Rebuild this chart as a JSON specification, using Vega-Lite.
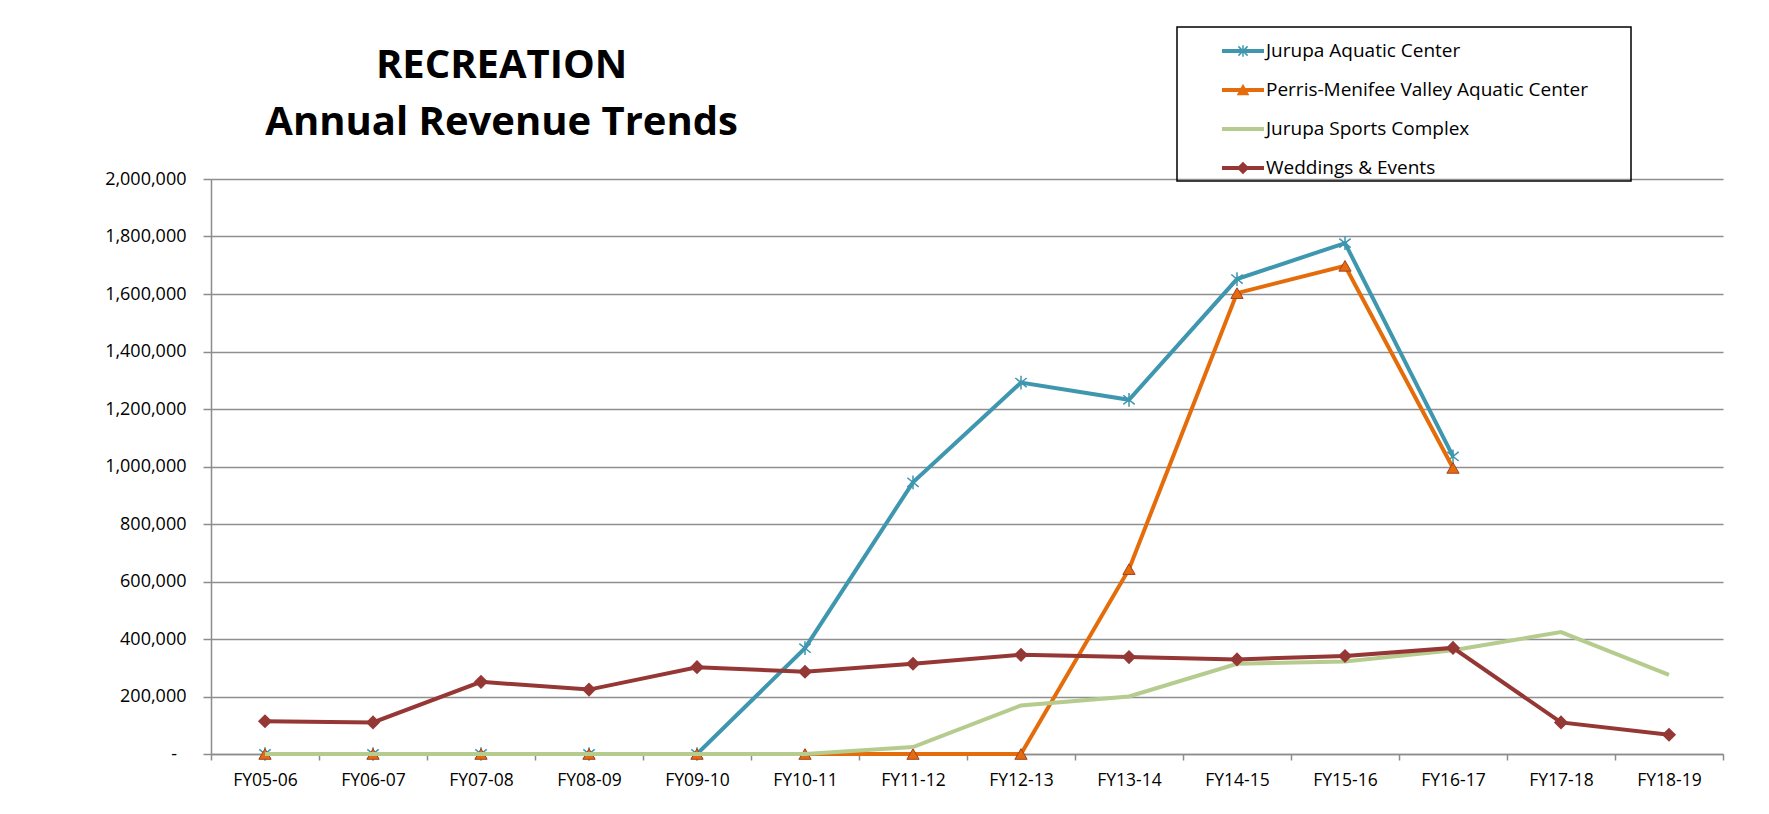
{
  "$schema": "https://vega.github.io/schema/vega-lite/v6.json",
  "autosize": {"type": "none"},
  "padding": {"left": 211, "top": 179, "right": 46, "bottom": 59},
  "width": 1512,
  "height": 575,
  "background": "white",
  "config": {
    "view": {"stroke": null},
    "font": "Open Sans"
  },
  "title": {
    "text": ["RECREATION", "Annual Revenue Trends"],
    "anchor": "start",
    "align": "center",
    "dx": 397,
    "dy": 182,
    "font": "Open Sans",
    "fontSize": 40,
    "fontWeight": "bold",
    "color": "#000000",
    "lineHeight": 57,
    "baseline": "bottom",
    "offset": 25
  },
  "data": {
    "values": [
      {"fy": "FY05-06", "s": "Jurupa Aquatic Center", "v": 0},
      {"fy": "FY06-07", "s": "Jurupa Aquatic Center", "v": 0},
      {"fy": "FY07-08", "s": "Jurupa Aquatic Center", "v": 0},
      {"fy": "FY08-09", "s": "Jurupa Aquatic Center", "v": 0},
      {"fy": "FY09-10", "s": "Jurupa Aquatic Center", "v": 0},
      {"fy": "FY10-11", "s": "Jurupa Aquatic Center", "v": 368000},
      {"fy": "FY11-12", "s": "Jurupa Aquatic Center", "v": 945000},
      {"fy": "FY12-13", "s": "Jurupa Aquatic Center", "v": 1292000},
      {"fy": "FY13-14", "s": "Jurupa Aquatic Center", "v": 1232000},
      {"fy": "FY14-15", "s": "Jurupa Aquatic Center", "v": 1652000},
      {"fy": "FY15-16", "s": "Jurupa Aquatic Center", "v": 1777000},
      {"fy": "FY16-17", "s": "Jurupa Aquatic Center", "v": 1035000},
      {"fy": "FY05-06", "s": "Perris-Menifee Valley Aquatic Center", "v": 0},
      {"fy": "FY06-07", "s": "Perris-Menifee Valley Aquatic Center", "v": 0},
      {"fy": "FY07-08", "s": "Perris-Menifee Valley Aquatic Center", "v": 0},
      {"fy": "FY08-09", "s": "Perris-Menifee Valley Aquatic Center", "v": 0},
      {"fy": "FY09-10", "s": "Perris-Menifee Valley Aquatic Center", "v": 0},
      {"fy": "FY10-11", "s": "Perris-Menifee Valley Aquatic Center", "v": 0},
      {"fy": "FY11-12", "s": "Perris-Menifee Valley Aquatic Center", "v": 0},
      {"fy": "FY12-13", "s": "Perris-Menifee Valley Aquatic Center", "v": 0},
      {"fy": "FY13-14", "s": "Perris-Menifee Valley Aquatic Center", "v": 643000},
      {"fy": "FY14-15", "s": "Perris-Menifee Valley Aquatic Center", "v": 1603000},
      {"fy": "FY15-16", "s": "Perris-Menifee Valley Aquatic Center", "v": 1698000},
      {"fy": "FY16-17", "s": "Perris-Menifee Valley Aquatic Center", "v": 995000},
      {"fy": "FY05-06", "s": "Jurupa Sports Complex", "v": 0},
      {"fy": "FY06-07", "s": "Jurupa Sports Complex", "v": 0},
      {"fy": "FY07-08", "s": "Jurupa Sports Complex", "v": 0},
      {"fy": "FY08-09", "s": "Jurupa Sports Complex", "v": 0},
      {"fy": "FY09-10", "s": "Jurupa Sports Complex", "v": 0},
      {"fy": "FY10-11", "s": "Jurupa Sports Complex", "v": 0},
      {"fy": "FY11-12", "s": "Jurupa Sports Complex", "v": 24000},
      {"fy": "FY12-13", "s": "Jurupa Sports Complex", "v": 169000},
      {"fy": "FY13-14", "s": "Jurupa Sports Complex", "v": 200000},
      {"fy": "FY14-15", "s": "Jurupa Sports Complex", "v": 314000},
      {"fy": "FY15-16", "s": "Jurupa Sports Complex", "v": 322000},
      {"fy": "FY16-17", "s": "Jurupa Sports Complex", "v": 361000},
      {"fy": "FY17-18", "s": "Jurupa Sports Complex", "v": 424000},
      {"fy": "FY18-19", "s": "Jurupa Sports Complex", "v": 275000},
      {"fy": "FY05-06", "s": "Weddings & Events", "v": 114000},
      {"fy": "FY06-07", "s": "Weddings & Events", "v": 110000},
      {"fy": "FY07-08", "s": "Weddings & Events", "v": 251000},
      {"fy": "FY08-09", "s": "Weddings & Events", "v": 224000},
      {"fy": "FY09-10", "s": "Weddings & Events", "v": 302000},
      {"fy": "FY10-11", "s": "Weddings & Events", "v": 286000},
      {"fy": "FY11-12", "s": "Weddings & Events", "v": 314000},
      {"fy": "FY12-13", "s": "Weddings & Events", "v": 345000},
      {"fy": "FY13-14", "s": "Weddings & Events", "v": 337000},
      {"fy": "FY14-15", "s": "Weddings & Events", "v": 329000},
      {"fy": "FY15-16", "s": "Weddings & Events", "v": 341000},
      {"fy": "FY16-17", "s": "Weddings & Events", "v": 369000},
      {"fy": "FY17-18", "s": "Weddings & Events", "v": 110000},
      {"fy": "FY18-19", "s": "Weddings & Events", "v": 67000}
    ]
  },
  "encoding": {
    "x": {
      "field": "fy",
      "type": "ordinal",
      "bandPosition": 0.5,
      "scale": {"type": "band", "paddingInner": 0, "paddingOuter": 0},
      "axis": {
        "title": null,
        "labelAngle": 0,
        "grid": false,
        "tickBand": "extent",
        "domainColor": "#8c8c8c",
        "domainWidth": 1.5,
        "tickColor": "#8c8c8c",
        "tickWidth": 1.5,
        "tickSize": 6,
        "labelFont": "Open Sans",
        "labelFontSize": 17.5,
        "labelColor": "#000000",
        "labelPadding": 11
      }
    },
    "y": {
      "field": "v",
      "type": "quantitative",
      "scale": {"domain": [0, 2000000], "nice": false},
      "axis": {
        "title": null,
        "values": [0, 200000, 400000, 600000, 800000, 1000000, 1200000, 1400000, 1600000, 1800000, 2000000],
        "labelExpr": "datum.value === 0 ? '-\u00a0\u00a0\u200b' : format(datum.value, ',')",
        "grid": true,
        "gridColor": "#8f8f8f",
        "gridWidth": 1.5,
        "domainColor": "#8c8c8c",
        "domainWidth": 1.5,
        "tickColor": "#8c8c8c",
        "tickWidth": 1.5,
        "tickSize": 8,
        "labelFont": "Open Sans",
        "labelFontSize": 18,
        "labelColor": "#000000",
        "labelPadding": 17
      }
    },
    "color": {
      "field": "s",
      "type": "nominal",
      "scale": {
        "domain": ["Jurupa Aquatic Center", "Perris-Menifee Valley Aquatic Center", "Jurupa Sports Complex", "Weddings & Events"],
        "range": ["#3E97AF", "#E46C0A", "#B5CC8E", "#953735"]
      },
      "legend": {
        "title": null,
        "orient": "none",
        "legendX": 966,
        "legendY": -152,
        "padding": 3,
        "symbolOffset": 42,
        "rowPadding": 8,
        "symbolSize": 1764,
        "labelOffset": 2,
        "labelLimit": 1000,
        "labelFont": "Open Sans",
        "labelFontSize": 19,
        "labelColor": "#000000",
        "strokeColor": "#000000",
        "labelExpr": "datum.label + '\u00a0\u00a0\u00a0\u00a0\u00a0\u00a0\u00a0\u00a0\u200b'",
        "encode": {
          "legend": {"update": {"strokeWidth": {"value": 1.5}}},
          "symbols": {
            "update": {
              "shape": {"signal": "datum.value === 'Jurupa Aquatic Center' ? 'M-1,-0.095H1V0.095H-1Z M-0.035,-0.27H0.035V0.27H-0.035Z M-0.195,-0.245L0.245,0.195L0.195,0.245L-0.245,-0.195Z M-0.245,0.195L0.195,-0.245L0.245,-0.195L-0.195,0.245Z' : datum.value === 'Perris-Menifee Valley Aquatic Center' ? 'M-1,-0.095H1V0.095H-1Z M0,-0.3L0.3,0.25L-0.3,0.25Z' : datum.value === 'Jurupa Sports Complex' ? 'M-1,-0.095H1V0.095H-1Z' : 'M-1,-0.095H1V0.095H-1Z M0,-0.3L0.3,0L0,0.3L-0.3,0Z'"},
              "fill": {"scale": "color", "field": "value"},
              "stroke": {"value": "transparent"},
              "strokeWidth": {"value": 0},
              "opacity": {"value": 1},
              "fillOpacity": {"value": 1}
            }
          }
        }
      }
    }
  },
  "layer": [
    {
      "transform": [{"filter": "datum.s === 'Jurupa Aquatic Center'"}],
      "mark": {"type": "line", "strokeWidth": 4}
    },
    {
      "transform": [{"filter": "datum.s === 'Jurupa Aquatic Center'"}],
      "mark": {"type": "point", "shape": "M-1,-0.8L1,0.8M-1,0.8L1,-0.8M0,-1.2L0,1.2", "filled": false, "size": 130, "strokeWidth": 1.5, "opacity": 1}
    },
    {
      "transform": [{"filter": "datum.s === 'Perris-Menifee Valley Aquatic Center'"}],
      "mark": {"type": "line", "strokeWidth": 4}
    },
    {
      "transform": [{"filter": "datum.s === 'Perris-Menifee Valley Aquatic Center'"}],
      "mark": {"type": "point", "shape": "triangle-up", "filled": true, "size": 150, "stroke": "#A3402A", "strokeWidth": 1, "opacity": 1}
    },
    {
      "transform": [{"filter": "datum.s === 'Jurupa Sports Complex'"}],
      "mark": {"type": "line", "strokeWidth": 4}
    },
    {
      "transform": [{"filter": "datum.s === 'Weddings & Events'"}],
      "mark": {"type": "line", "strokeWidth": 4}
    },
    {
      "transform": [{"filter": "datum.s === 'Weddings & Events'"}],
      "mark": {"type": "point", "shape": "diamond", "filled": true, "size": 200, "opacity": 1}
    }
  ]
}
